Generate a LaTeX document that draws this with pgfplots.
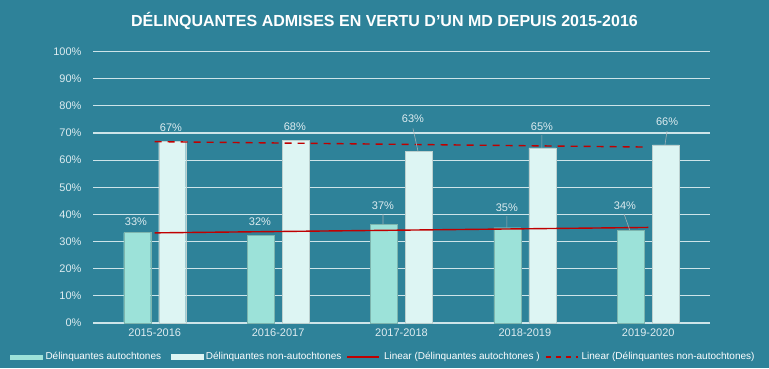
\documentclass[border=0pt]{standalone}
\usepackage{pgfplots}
\pgfplotsset{compat=1.18}
\usepackage{fontspec}
\setmainfont{Liberation Sans}
\definecolor{bg}{RGB}{46,130,153}
\definecolor{autoc}{RGB}{156,226,217}
\definecolor{nonc}{RGB}{221,245,243}
\definecolor{gridc}{RGB}{205,228,233}
\definecolor{txt}{RGB}{222,236,240}
\definecolor{trend}{RGB}{192,0,0}
\definecolor{lead}{RGB}{160,175,180}
\begin{document}
\begin{tikzpicture}
\useasboundingbox (0,0) rectangle (769pt,368pt);
\fill[bg] (0,0) rectangle (769pt,368pt);
\node[text=white,font=\fontsize{16}{18}\selectfont\bfseries] at (384.5pt,347pt) {DÉLINQUANTES ADMISES EN VERTU D’UN MD DEPUIS 2015-2016};
\begin{axis}[
  at={(93pt,45pt)}, anchor=south west,
  scale only axis, width=617pt, height=271.5pt,
  xmin=-0.5, xmax=4.5, ymin=0, ymax=100,
  ybar=8pt, bar width=27pt,
  xtick={0,1,2,3,4},
  xticklabels={2015-2016,2016-2017,2017-2018,2018-2019,2019-2020},
  ytick={0,10,...,100},
  yticklabel={\pgfmathprintnumber{\tick}\%},
  /pgf/number format/assume math mode=true,
  ticklabel style={text=txt,font=\fontsize{11}{13}\selectfont},
  xticklabel style={yshift=-2pt},
  yticklabel style={xshift=-8pt},
  major tick length=0pt,
  axis line style={draw=none},
  ymajorgrids, grid style={gridc,line width=1.2pt},
  unbounded coords=jump,
  legend columns=4,
  legend style={at={(-0.1345,-0.125)},anchor=west,draw=none,fill=none,inner sep=0pt,
    text=white,font=\fontsize{10}{12}\selectfont,
    nodes={inner sep=1pt},
    /tikz/every even column/.style={column sep=0pt}},
]
\addplot[fill=autoc,draw=autoc!80!black,line width=0.3pt,
  legend image code/.code={\fill[autoc] (0pt,-2pt) rectangle (32pt,2pt);}]
  coordinates {(0,33.3) (1,32.4) (2,36.3) (3,35.1) (4,34.2)};
\addlegendentry{\makebox[126pt][l]{\hspace{2pt}Délinquantes autochtones}}
\addplot[fill=nonc,draw=nonc!85!black,line width=0.3pt,
  legend image code/.code={\fill[nonc] (0pt,-2.5pt) rectangle (32pt,2.5pt);}]
  coordinates {(0,66.8) (1,67.4) (2,63.2) (3,64.5) (4,65.6)};
\addlegendentry{\makebox[142pt][l]{\hspace{2pt}Délinquantes non-autochtones}}
\addplot[sharp plot,trend,line width=1.4pt,
  legend image code/.code={\draw[trend,line width=1.2pt] (0pt,0pt) -- (32pt,0pt);}]
  coordinates {(0,33.2) (4,35.2)};
\addlegendentry{\makebox[163pt][l]{\hspace{3pt}Linear (Délinquantes autochtones )}}
\addplot[sharp plot,trend,line width=1.4pt,dash pattern=on 7pt off 6pt,
  legend image code/.code={\draw[trend,line width=1.6pt,dash pattern=on 5pt off 5pt] (0pt,0pt) -- (32pt,0pt);}]
  coordinates {(0,66.8) (4,64.8)};
\addlegendentry{\hspace{2pt}Linear (Délinquantes non-autochtones)}
% leader lines
\addplot[sharp plot,lead,line width=0.6pt,forget plot] coordinates {
  (1.850,40.1) (1.850,36.3) (nan,nan)
  (2.093,71.7) (2.134,63.2) (nan,nan)
  (2.854,39.4) (2.854,35.1) (nan,nan)
  (3.138,69.2) (3.138,64.5) (nan,nan)
  (3.803,40.2) (3.850,34.2) (nan,nan)
  (4.152,70.7) (4.135,65.6)};
% data labels
\addplot[only marks,mark=none,forget plot,
  point meta=explicit symbolic,
  nodes near coords={\pgfplotspointmeta\%},
  every node near coord/.style={anchor=center,text=txt,font=\fontsize{11}{13}\selectfont,inner sep=0pt}]
  table[meta=l] {
x y l
-0.152 37.2 33
0.132 71.8 67
0.853 37.2 32
1.136 72.2 68
1.850 43.1 37
2.093 75.1 63
2.854 42.4 35
3.138 72.2 65
3.811 43.1 34
4.152 74.0 66
};
\end{axis}
\end{tikzpicture}
\end{document}
